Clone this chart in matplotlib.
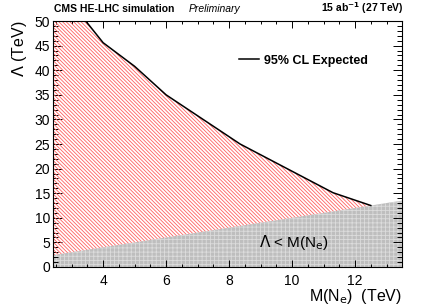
import numpy as np
import matplotlib.pyplot as plt
from matplotlib.ticker import MultipleLocator

plt.rcParams['font.family'] = ['Liberation Sans', 'DejaVu Sans']
plt.rcParams['hatch.linewidth'] = 0.6

# Erwartetes 95% CL Limit
m_ne = [2.4, 3.45, 4.0, 5.0, 6.0, 8.35, 11.3, 12.5]
lam_exp = [58.5, 50.0, 45.6, 40.8, 35.0, 25.0, 15.1, 12.5]

x_range = [2.4, 13.5]
y_range = [0, 50]

BS = chr(92)

fig = plt.figure(figsize=(4.25, 3.05), dpi=100)
ax = fig.add_axes([0.124, 0.1246, 0.8226, 0.8064])

# ausgeschlossene Region Lambda < M(Ne)
xg = np.array(x_range)
ax.fill_between(xg, 0, xg, facecolor='#bebebe', edgecolor='#dcdcdc',
                hatch='++++', linewidth=0, zorder=1)

# schraffierte Region unter der Kurve
xs = np.linspace(m_ne[0], m_ne[-1], 400)
ys = np.interp(xs, m_ne, lam_exp)
ax.fill_between(xs, xs, ys, facecolor='none', edgecolor='#ff6060',
                hatch=BS * 9, linewidth=0, zorder=2)

ax.plot(m_ne, lam_exp, color='black', lw=1.1, zorder=3, label='95% CL Expected')

ax.set_xlim(*x_range)
ax.set_ylim(*y_range)
ax.xaxis.set_major_locator(MultipleLocator(2))
ax.xaxis.set_minor_locator(MultipleLocator(0.5))
ax.yaxis.set_major_locator(MultipleLocator(5))
ax.yaxis.set_minor_locator(MultipleLocator(1))
ax.tick_params(which='both', direction='in', top=True, right=True, width=0.7,
               labelsize=10)
ax.tick_params(axis='x', which='major', length=5, pad=5)
ax.tick_params(axis='x', which='minor', length=2.5)
ax.tick_params(axis='y', which='major', length=6.5, pad=2)
ax.tick_params(axis='y', which='minor', length=3.5)
for sp in ax.spines.values():
    sp.set_linewidth(0.8)

ax.set_xlabel(r'M(N$_{\mathrm{e}}$)  (TeV)', fontsize=11.5, loc='right', labelpad=-1)
ax.set_ylabel(r'$\Lambda$ (TeV)', fontsize=11.5, loc='top', labelpad=4)

ax.text(8.95, 4.9, r'$\Lambda$ < M(N$_{\mathrm{e}}$)', fontsize=11, ha='left', va='center', zorder=4)

ax.legend(loc='center left', bbox_to_anchor=(0.532, 0.839), frameon=False,
          handlelength=1.6, handletextpad=0.4, borderpad=0, borderaxespad=0,
          prop={'weight': 'bold', 'size': 9})

fig.text(0.128, 0.972, 'CMS HE-LHC simulation', fontsize=7.5, weight='bold',
         ha='left', va='center')
fig.text(0.445, 0.972, 'Preliminary', fontsize=7.5, style='italic',
         ha='left', va='center')
fig.text(0.951, 0.972, r'15 ab$^{\mathbf{-1}}$ (27 TeV)', fontsize=7.5, weight='bold',
         ha='right', va='center')

fig.savefig('out.png', dpi=100)
